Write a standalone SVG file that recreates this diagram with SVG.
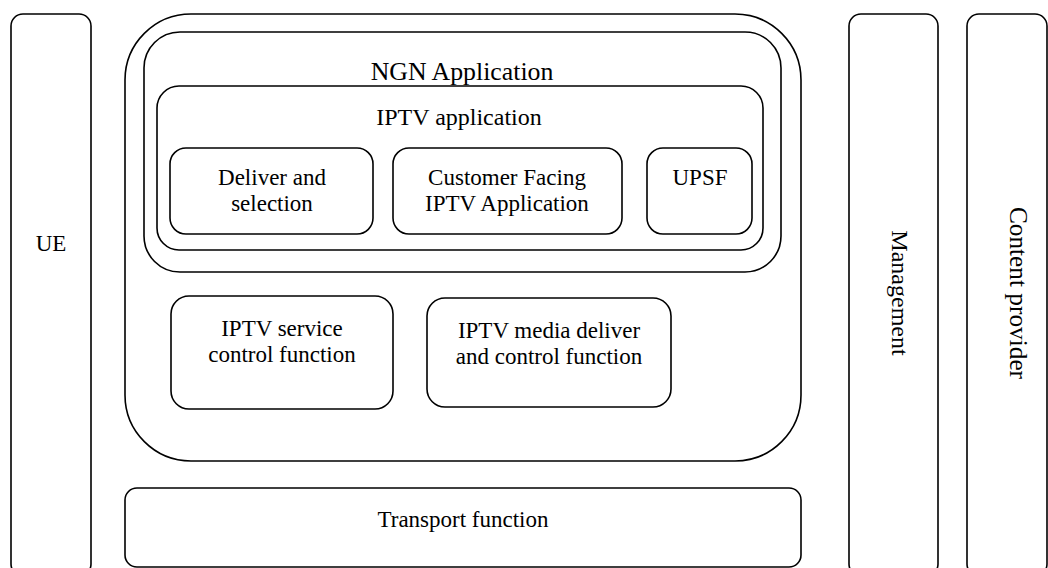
<svg xmlns="http://www.w3.org/2000/svg" width="1048" height="568" viewBox="0 0 1048 568">
  <style>
    .box { fill: none; stroke: #000; stroke-width: 1.6; }
    .t { font-family: "Liberation Serif", "Times New Roman", serif; font-size: 23px; fill: #000; text-anchor: middle; }
  </style>
  <rect width="1048" height="568" fill="#fff"/>
  <g id="ue">
    <rect class="box" x="11" y="14" width="80" height="562" rx="12"/>
    <text class="t" x="51" y="251">UE</text>
  </g>
  <g id="ngn-application">
    <rect class="box" x="125" y="14" width="676" height="447" rx="66"/>
    <rect class="box" x="144" y="32" width="637" height="240" rx="36"/>
    <text class="t" x="462" y="80" style="font-size:25.8px">NGN Application</text>
  </g>
  <g id="iptv-application">
    <rect class="box" x="157" y="86" width="606" height="164" rx="22"/>
    <text class="t" x="459" y="125" style="font-size:24px">IPTV application</text>
  </g>
  <g id="deliver-selection">
    <rect class="box" x="170" y="148" width="203" height="86" rx="16"/>
    <text class="t" x="272" y="185">Deliver and</text>
    <text class="t" x="272" y="211">selection</text>
  </g>
  <g id="customer-facing">
    <rect class="box" x="393" y="148" width="229" height="86" rx="16"/>
    <text class="t" x="507" y="185">Customer Facing</text>
    <text class="t" x="507" y="211">IPTV Application</text>
  </g>
  <g id="upsf">
    <rect class="box" x="647" y="148" width="105" height="86" rx="16"/>
    <text class="t" x="700" y="185">UPSF</text>
  </g>
  <g id="service-control">
    <rect class="box" x="171" y="296" width="222" height="113" rx="18"/>
    <text class="t" x="282" y="336">IPTV service</text>
    <text class="t" x="282" y="362">control function</text>
  </g>
  <g id="media-deliver">
    <rect class="box" x="427" y="298" width="244" height="109" rx="18"/>
    <text class="t" x="549" y="338">IPTV media deliver</text>
    <text class="t" x="549" y="364">and control function</text>
  </g>
  <g id="transport">
    <rect class="box" x="125" y="488" width="676" height="79" rx="12"/>
    <text class="t" x="463" y="527">Transport function</text>
  </g>
  <g id="management">
    <rect class="box" x="849" y="14" width="89" height="562" rx="12"/>
    <text class="t" x="892" y="293" transform="rotate(90 892 293)" style="font-size:24px">Management</text>
  </g>
  <g id="content-provider">
    <rect class="box" x="967" y="14" width="80" height="562" rx="12"/>
    <text class="t" x="1010" y="293" transform="rotate(90 1010 293)" style="font-size:25.3px">Content provider</text>
  </g>
  <g id="connectors"></g>
</svg>
